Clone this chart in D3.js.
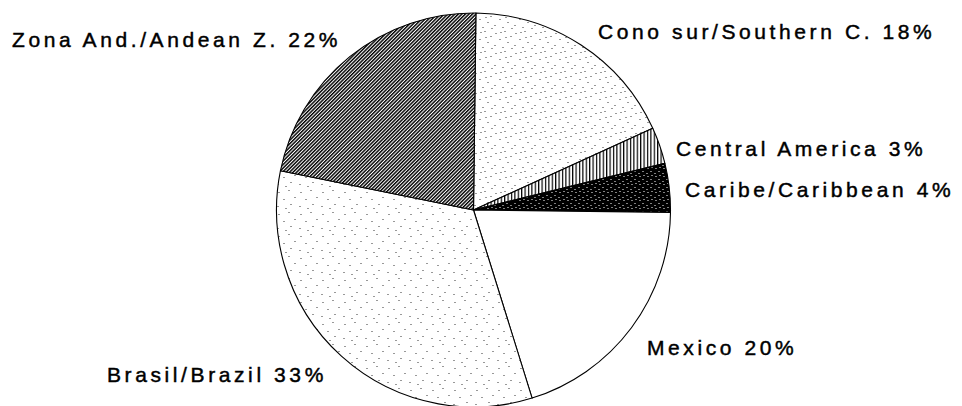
<!DOCTYPE html>
<html>
<head>
<meta charset="utf-8">
<script src="https://cdn.jsdelivr.net/npm/d3@7"></script>
<style>
  html, body { margin: 0; padding: 0; background: #fff; }
  svg { display: block; }
  text { font-family: "Liberation Sans", Arial, sans-serif; font-size: 21px; letter-spacing: 3.6px;
         fill: #000; stroke: #000; stroke-width: 0.45px; }
</style>
</head>
<body>
<svg id="chart" width="962" height="406"></svg>
<script>
// Regional shares (%), clockwise from twelve o'clock
const regions = ["Cono sur/Southern C.", "Central America", "Caribe/Caribbean", "Mexico", "Brasil/Brazil", "Zona And./Andean Z."];
const shares  = [18, 3, 4, 20, 33, 22];

const svg = d3.select("#chart");
const cx = 473.5, cy = 210, R = 197;

// ---- fill textures ----
const defs = svg.append("defs");

function stipple(id, size, dots, ink, ground) {
  const p = defs.append("pattern").attr("id", id)
    .attr("patternUnits", "userSpaceOnUse").attr("width", size).attr("height", size);
  p.append("rect").attr("width", size).attr("height", size).attr("fill", ground);
  p.selectAll("rect.d").data(dots).join("rect").attr("class", "d")
    .attr("x", d => d[0]).attr("y", d => d[1]).attr("width", 1).attr("height", 1).attr("fill", ink);
}
// light stipple
stipple("dotsLight", 20,
  [[2,3],[11,1],[17,6],[6,9],[14,12],[1,15],[9,17],[18,18],[12,7],[7,2]], "#333", "#fff");
// sparser stipple
stipple("dotsSparse", 22,
  [[3,4],[13,2],[19,9],[8,11],[15,16],[2,18],[10,20]], "#333", "#fff");
// dark stipple: black with white specks
stipple("dotsDark", 8,
  [[1,1],[5,3],[2,5],[6,6]], "#fff", "#000");

// vertical hatching
const vh = defs.append("pattern").attr("id", "vHatch")
  .attr("patternUnits", "userSpaceOnUse").attr("width", 3.4).attr("height", 10);
vh.append("rect").attr("width", 3.4).attr("height", 10).attr("fill", "#fff");
vh.append("rect").attr("x", 0).attr("width", 1.2).attr("height", 10).attr("fill", "#000");

// diagonal hatching "/"
const dh = defs.append("pattern").attr("id", "dHatch")
  .attr("patternUnits", "userSpaceOnUse").attr("width", 2.5).attr("height", 10)
  .attr("patternTransform", "rotate(45)");
dh.append("rect").attr("width", 2.5).attr("height", 10).attr("fill", "#fff");
dh.append("rect").attr("width", 1.45).attr("height", 10).attr("fill", "#000");

const fills = ["url(#dotsLight)", "url(#vHatch)", "url(#dotsDark)", "#fff", "url(#dotsSparse)", "url(#dHatch)"];

// ---- pie ----
const offset = 0.7 * Math.PI / 180;
const pie = d3.pie().sort(null).value(d => d)
  .startAngle(offset).endAngle(2 * Math.PI + offset);
const arc = d3.arc().innerRadius(0).outerRadius(R);

const g = svg.append("g").attr("transform", `translate(${cx},${cy})`);
g.selectAll("path").data(pie(shares)).join("path")
  .attr("d", arc)
  .attr("fill", (d, i) => fills[i])
  .attr("stroke", "#000")
  .attr("stroke-width", 1.1)
  .attr("stroke-linejoin", "round");

// ---- labels ----
const labelAt = [
  [598, 39],    // Cono sur
  [676, 156],   // Central America
  [685, 197],   // Caribe
  [647, 355],   // Mexico
  [107, 382],   // Brasil
  [12, 46.5]    // Zona Andina
];
svg.selectAll("text.lbl").data(regions).join("text").attr("class", "lbl")
  .attr("x", (d, i) => labelAt[i][0])
  .attr("y", (d, i) => labelAt[i][1])
  .text((d, i) => `${d} ${shares[i]}%`);
</script>
</body>
</html>
